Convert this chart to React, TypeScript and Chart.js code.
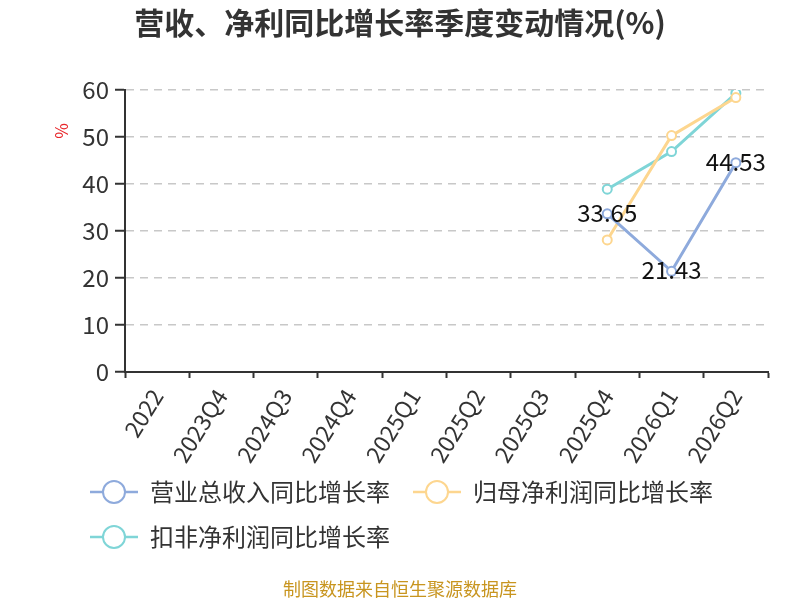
import React, { useEffect, useRef } from "react";
import { Chart, registerables } from "chart.js";

Chart.register(...registerables);

const categories = ["2022", "2023Q4", "2024Q3", "2024Q4", "2025Q1", "2025Q2", "2025Q3", "2025Q4", "2026Q1", "2026Q2"];
const revenueGrowth = [null, null, null, null, null, null, null, 33.65, 21.43, 44.53];
const parentProfitGrowth = [null, null, null, null, null, null, null, 28.1, 50.3, 58.4];
const deductedProfitGrowth = [null, null, null, null, null, null, null, 38.9, 46.9, 59.3];
const seriesNames = ["营业总收入同比增长率", "归母净利润同比增长率", "扣非净利润同比增长率"];
const seriesColors = ["#8eaadc", "#fdd68f", "#7fd5d7"];
const yTicks = [0, 10, 20, 30, 40, 50, 60];

const titleText = "营收、净利同比增长率季度变动情况(%)";
const sourceText = "制图数据来自恒生聚源数据库";
const FONT = "'Noto Sans CJK SC', 'Noto Sans', sans-serif";

const decorPlugin = {
  id: "decor",
  afterDatasetsDraw(chart: any) {
    const ctx = chart.ctx;
    const meta = chart.getDatasetMeta(0);
    ctx.save();
    ctx.font = `24px ${FONT}`;
    ctx.fillStyle = "#111";
    ctx.textAlign = "center";
    ctx.textBaseline = "middle";
    meta.data.forEach((pt: any, i: number) => {
      const v = revenueGrowth[i];
      if (v === null || v === undefined) return;
      ctx.fillText(v.toFixed(2), pt.x, pt.y - 1);
    });
    ctx.restore();
  },
  afterDraw(chart: any) {
    const ctx = chart.ctx;
    ctx.save();
    // title
    ctx.font = `bold 30px ${FONT}`;
    ctx.fillStyle = "#333";
    ctx.textAlign = "center";
    ctx.textBaseline = "middle";
    ctx.fillText(titleText, 400, 23);
    // unit label
    ctx.save();
    ctx.translate(62, 131);
    ctx.rotate(-Math.PI / 2);
    ctx.font = `17px ${FONT}`;
    ctx.fillStyle = "#e8262a";
    ctx.fillText("%", 0, 0);
    ctx.restore();
    // legend
    const items = [
      { x: 90, y: 492 },
      { x: 413, y: 492 },
      { x: 90, y: 537 },
    ];
    items.forEach((it, i) => {
      ctx.strokeStyle = seriesColors[i];
      ctx.lineWidth = 2.5;
      ctx.beginPath();
      ctx.moveTo(it.x, it.y);
      ctx.lineTo(it.x + 48, it.y);
      ctx.stroke();
      ctx.beginPath();
      ctx.arc(it.x + 24, it.y, 11, 0, Math.PI * 2);
      ctx.fillStyle = "#fff";
      ctx.fill();
      ctx.lineWidth = 2;
      ctx.stroke();
      ctx.font = `24px ${FONT}`;
      ctx.fillStyle = "#333";
      ctx.textAlign = "left";
      ctx.textBaseline = "middle";
      ctx.fillText(seriesNames[i], it.x + 60, it.y);
    });
    // source
    ctx.font = `18px ${FONT}`;
    ctx.fillStyle = "#c8951f";
    ctx.textAlign = "center";
    ctx.textBaseline = "middle";
    ctx.fillText(sourceText, 400, 589);
    ctx.restore();
  },
};

export default function App() {
  const ref = useRef<HTMLCanvasElement | null>(null);
  useEffect(() => {
    if (!ref.current) return;
    const mk = (i: number, data: (number | null)[]) => ({
      label: seriesNames[i],
      data,
      borderColor: seriesColors[i],
      backgroundColor: "#fff",
      pointBackgroundColor: "#fff",
      pointBorderColor: seriesColors[i],
      pointBorderWidth: 2,
      pointRadius: 4.5,
      borderWidth: 3,
      spanGaps: false,
      tension: 0,
    });
    const chart = new Chart(ref.current, {
      type: "line",
      data: {
        labels: categories,
        datasets: [mk(0, revenueGrowth), mk(1, parentProfitGrowth), mk(2, deductedProfitGrowth)],
      },
      options: {
        animation: false,
        responsive: true,
        maintainAspectRatio: false,
        devicePixelRatio: 1,
        layout: { padding: { top: 90, right: 32, bottom: 128, left: 0 } },
        plugins: {
          legend: { display: false },
          title: { display: false },
          tooltip: { enabled: false },
        },
        scales: {
          x: {
            type: "category",
            offset: true,
            grid: {
              display: true,
              drawOnChartArea: false,
              drawTicks: true,
              tickLength: 6,
              tickColor: "#333",
              tickWidth: 2,
              offset: true,
            },
            border: { display: true, color: "#333", width: 2 },
            ticks: {
              color: "#333",
              font: { size: 23, family: FONT },
              minRotation: 58,
              maxRotation: 58,
              autoSkip: false,
              padding: 6,
            },
            afterFit: (s: any) => {
              s.height = 100;
            },
          },
          y: {
            min: 0,
            max: 60,
            afterBuildTicks: (s: any) => {
              s.ticks = yTicks.map((v) => ({ value: v }));
            },
            grid: {
              color: (c: any) => (c.tick && c.tick.value === 0 ? "rgba(0,0,0,0)" : "#c8c8c8"),
              lineWidth: 1.5,
              tickColor: "#333",
              tickLength: 10,
              tickWidth: 2,
              tickBorderDash: [],
            },
            border: { display: true, color: "#333", width: 2, dash: [8, 6] },
            ticks: {
              color: "#333",
              font: { size: 24, family: FONT },
              padding: 6,
            },
            afterFit: (s: any) => {
              s.width = 125;
            },
          },
        },
      },
      plugins: [decorPlugin],
    } as any);
    return () => chart.destroy();
  }, []);
  return (
    <div style={{ position: "fixed", left: 0, top: 0, width: 800, height: 600, background: "#fff" }}>
      <canvas ref={ref} />
    </div>
  );
}
